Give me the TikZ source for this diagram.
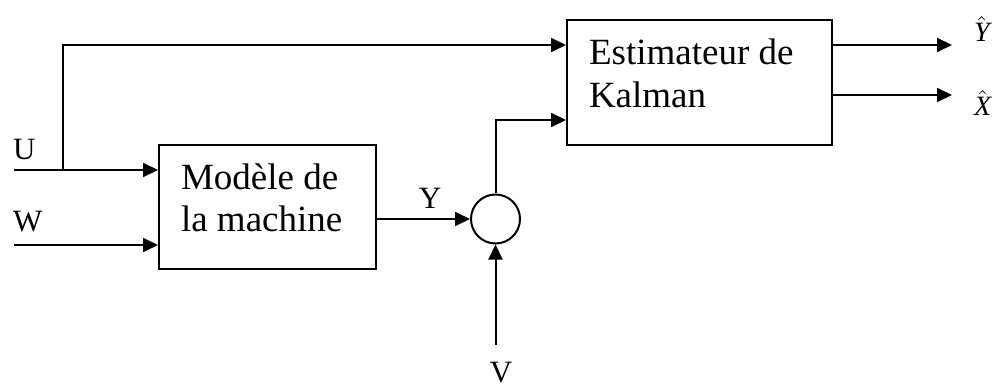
\documentclass[tikz,border=0pt]{standalone}
\usepackage{fontspec}
\setmainfont{Liberation Serif}
\usetikzlibrary{arrows.meta}
\begin{document}
\begin{tikzpicture}[x=0.5pt,y=-0.5pt,
  line width=1pt,
  arr/.style={-{Triangle[length=7.5pt,width=7pt]}},
  blockbox/.style={draw,rectangle,inner sep=0pt},
  boxtext/.style={anchor=base west,inner sep=0pt,font=\fontsize{18.5}{21.5}\selectfont},
  sig/.style={inner sep=0pt,font=\fontsize{15.5}{18}\selectfont},
  outlab/.style={anchor=base west,inner sep=0pt,font=\fontsize{14}{16}\selectfont}]
\useasboundingbox (0,0) rectangle (1002,385);
% blocks
\node[blockbox,minimum width=108.5pt,minimum height=62pt] (model) at (267.5,207) {};
\node[blockbox,minimum width=132.5pt,minimum height=62.5pt] (kalman) at (699.5,82.5) {};
\node[draw,circle,minimum size=24.5pt,inner sep=0pt] (sum) at (495.5,219) {};
% block texts
\node[boxtext] (mt1) at (180,190) {Modèle de};
\node[boxtext] (mt2) at (180,232) {la machine};
\node[boxtext] (kt1) at (588,65) {Estimateur de};
\node[boxtext] (kt2) at (588,108) {Kalman};
% free ends
\coordinate (uin) at (14,170);
\coordinate (ub) at (62.5,170);
\coordinate (win) at (14,245);
\coordinate (vin) at (495.5,345);
\coordinate (ktop) at (560,45);
\coordinate (kbot) at (560,120);
\coordinate (yh) at (952,45);
\coordinate (xh) at (952,95);
% connectors
\draw[arr] (uin) -- (uin -| model.west);
\draw[arr] (ub) |- (kalman.west |- ktop);
\draw[arr] (win) -- (win -| model.west);
\draw[arr] (model.east |- sum.west) -- (sum.west);
\draw[arr] (sum.north) |- (kalman.west |- kbot);
\draw[arr] (vin) -- (sum.south);
\draw[arr] (kalman.east |- yh) -- (yh);
\draw[arr] (kalman.east |- xh) -- (xh);
% labels
\node[sig,anchor=base west] (lu) at (12,160) {U};
\node[sig,anchor=base west] (lw) at (12,232) {W};
\node[sig,anchor=base] (ly) at (430,208) {Y};
\node[sig,anchor=base] (lv) at (501,382) {V};
\node[outlab] (lyh) at (973,42) {$\hat{\textit{Y}}$};
\node[outlab] (lxh) at (973,116) {$\hat{\textit{X}}$};
\end{tikzpicture}
\end{document}
